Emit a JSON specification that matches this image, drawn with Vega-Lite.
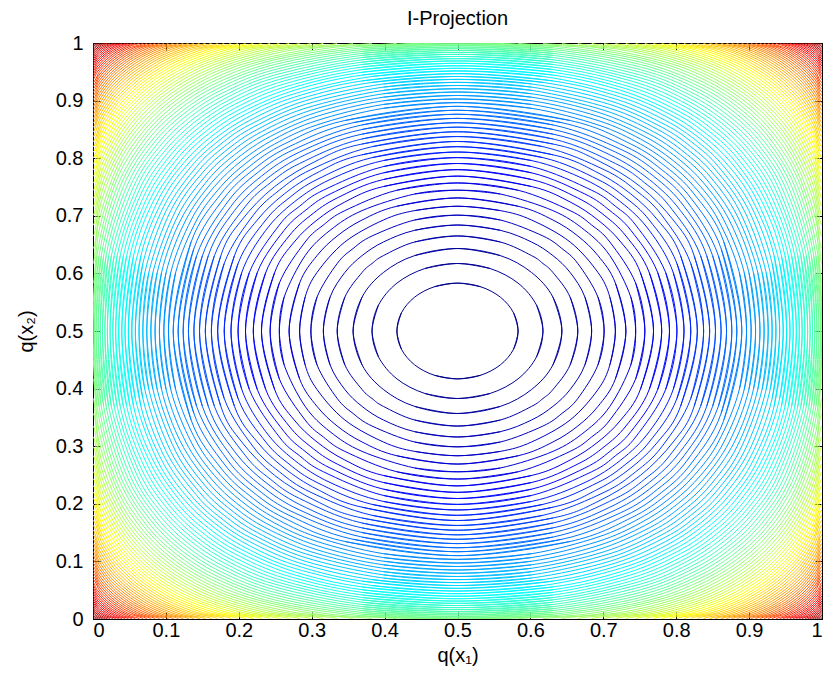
{
"$schema":"https://vega.github.io/schema/vega-lite/v6.json",
"width":729,"height":576,
"autosize":{"type":"none"},
"padding":{"left":93,"top":43,"right":1,"bottom":64},
"background":"white",
"title":{"text":"I-Projection","fontSize":20,"font":"Liberation Sans","fontWeight":"normal","color":"black","offset":4},
"data":{"values":[
{"m":1,"x":0.5768,"y":0.4682},{"m":1,"x":0.5831,"y":0.5},{"m":1,"x":0.5768,"y":0.5318},{"m":1,"x":0.5588,"y":0.5588},{"m":1,"x":0.5318,"y":0.5768},{"m":1,"x":0.5,"y":0.5831},{"m":1,"x":0.4682,"y":0.5768},
{"m":2,"x":0.6084,"y":0.4551},{"m":2,"x":0.6172,"y":0.5},{"m":2,"x":0.6084,"y":0.5449},{"m":2,"x":0.5831,"y":0.5831},{"m":2,"x":0.5449,"y":0.6084},{"m":2,"x":0.5,"y":0.6172},{"m":2,"x":0.4551,"y":0.6084},
{"m":3,"x":0.6309,"y":0.4412},{"m":3,"x":0.6432,"y":0.5},{"m":3,"x":0.6309,"y":0.5588},{"m":3,"x":0.6016,"y":0.6016},{"m":3,"x":0.5588,"y":0.6309},{"m":3,"x":0.5,"y":0.6432},{"m":3,"x":0.4412,"y":0.6309},
{"m":4,"x":0.6545,"y":0.4412},{"m":4,"x":0.665,"y":0.5},{"m":4,"x":0.6545,"y":0.5588},{"m":4,"x":0.6309,"y":0.6016},{"m":4,"x":0.6172,"y":0.6172},{"m":4,"x":0.6016,"y":0.6309},{"m":4,"x":0.5588,"y":0.6545},{"m":4,"x":0.5,"y":0.665},{"m":4,"x":0.4412,"y":0.6545},
{"m":5,"x":0.6748,"y":0.4412},{"m":5,"x":0.684,"y":0.5},{"m":5,"x":0.6748,"y":0.5588},{"m":5,"x":0.6545,"y":0.6016},{"m":5,"x":0.6309,"y":0.6309},{"m":5,"x":0.6016,"y":0.6545},{"m":5,"x":0.5588,"y":0.6748},{"m":5,"x":0.5,"y":0.684},{"m":5,"x":0.4412,"y":0.6748},
{"m":6,"x":0.6927,"y":0.4412},{"m":6,"x":0.7011,"y":0.5},{"m":6,"x":0.6927,"y":0.5588},{"m":6,"x":0.665,"y":0.6172},{"m":6,"x":0.6432,"y":0.6432},{"m":6,"x":0.6172,"y":0.665},{"m":6,"x":0.5588,"y":0.6927},{"m":6,"x":0.5,"y":0.7011},{"m":6,"x":0.4412,"y":0.6927},
{"m":7,"x":0.709,"y":0.4412},{"m":7,"x":0.7166,"y":0.5},{"m":7,"x":0.709,"y":0.5588},{"m":7,"x":0.6927,"y":0.6016},{"m":7,"x":0.6545,"y":0.6545},{"m":7,"x":0.6016,"y":0.6927},{"m":7,"x":0.5588,"y":0.709},{"m":7,"x":0.5,"y":0.7166},{"m":7,"x":0.4412,"y":0.709},
{"m":8,"x":0.7166,"y":0.4169},{"m":8,"x":0.731,"y":0.5},{"m":8,"x":0.7166,"y":0.5831},{"m":8,"x":0.6927,"y":0.6309},{"m":8,"x":0.665,"y":0.665},{"m":8,"x":0.6309,"y":0.6927},{"m":8,"x":0.5831,"y":0.7166},{"m":8,"x":0.5,"y":0.731},{"m":8,"x":0.4169,"y":0.7166},
{"m":9,"x":0.7378,"y":0.4412},{"m":9,"x":0.7444,"y":0.5},{"m":9,"x":0.7378,"y":0.5588},{"m":9,"x":0.709,"y":0.6309},{"m":9,"x":0.6748,"y":0.6748},{"m":9,"x":0.6309,"y":0.709},{"m":9,"x":0.5588,"y":0.7378},{"m":9,"x":0.5,"y":0.7444},{"m":9,"x":0.4412,"y":0.7378},
{"m":10,"x":0.7444,"y":0.4169},{"m":10,"x":0.757,"y":0.5},{"m":10,"x":0.7444,"y":0.5831},{"m":10,"x":0.709,"y":0.6545},{"m":10,"x":0.684,"y":0.684},{"m":10,"x":0.6545,"y":0.709},{"m":10,"x":0.5831,"y":0.7444},{"m":10,"x":0.5,"y":0.757},{"m":10,"x":0.4169,"y":0.7444},
{"m":11,"x":0.7508,"y":0.3984},{"m":11,"x":0.7689,"y":0.5},{"m":11,"x":0.7508,"y":0.6016},{"m":11,"x":0.724,"y":0.6545},{"m":11,"x":0.6927,"y":0.6927},{"m":11,"x":0.6545,"y":0.724},{"m":11,"x":0.6016,"y":0.7508},{"m":11,"x":0.5,"y":0.7689},{"m":11,"x":0.3984,"y":0.7508},
{"m":12,"x":0.763,"y":0.3984},{"m":12,"x":0.7801,"y":0.5},{"m":12,"x":0.763,"y":0.6016},{"m":12,"x":0.731,"y":0.665},{"m":12,"x":0.7011,"y":0.7011},{"m":12,"x":0.665,"y":0.731},{"m":12,"x":0.6016,"y":0.763},{"m":12,"x":0.5,"y":0.7801},{"m":12,"x":0.3984,"y":0.763},
{"m":13,"x":0.7746,"y":0.3984},{"m":13,"x":0.7908,"y":0.5},{"m":13,"x":0.7746,"y":0.6016},{"m":13,"x":0.7378,"y":0.6748},{"m":13,"x":0.709,"y":0.709},{"m":13,"x":0.6748,"y":0.7378},{"m":13,"x":0.6016,"y":0.7746},{"m":13,"x":0.5,"y":0.7908},{"m":13,"x":0.3984,"y":0.7746},
{"m":14,"x":0.7855,"y":0.3984},{"m":14,"x":0.801,"y":0.5},{"m":14,"x":0.7855,"y":0.6016},{"m":14,"x":0.7444,"y":0.684},{"m":14,"x":0.7166,"y":0.7166},{"m":14,"x":0.684,"y":0.7444},{"m":14,"x":0.6016,"y":0.7855},{"m":14,"x":0.5,"y":0.801},{"m":14,"x":0.3984,"y":0.7855},
{"m":15,"x":0.7959,"y":0.3984},{"m":15,"x":0.8107,"y":0.5},{"m":15,"x":0.7959,"y":0.6016},{"m":15,"x":0.763,"y":0.6748},{"m":15,"x":0.724,"y":0.724},{"m":15,"x":0.6748,"y":0.763},{"m":15,"x":0.6016,"y":0.7959},{"m":15,"x":0.5,"y":0.8107},{"m":15,"x":0.3984,"y":0.7959},
{"m":16,"x":0.801,"y":0.3828},{"m":16,"x":0.82,"y":0.5},{"m":16,"x":0.801,"y":0.6172},{"m":16,"x":0.763,"y":0.6927},{"m":16,"x":0.731,"y":0.731},{"m":16,"x":0.6927,"y":0.763},{"m":16,"x":0.6172,"y":0.801},{"m":16,"x":0.5,"y":0.82},{"m":16,"x":0.3828,"y":0.801},
{"m":17,"x":0.8059,"y":0.3691},{"m":17,"x":0.829,"y":0.5},{"m":17,"x":0.8059,"y":0.6309},{"m":17,"x":0.7746,"y":0.6927},{"m":17,"x":0.7378,"y":0.7378},{"m":17,"x":0.6927,"y":0.7746},{"m":17,"x":0.6309,"y":0.8059},{"m":17,"x":0.5,"y":0.829},{"m":17,"x":0.3691,"y":0.8059},
{"m":18,"x":0.82,"y":0.3828},{"m":18,"x":0.8376,"y":0.5},{"m":18,"x":0.82,"y":0.6172},{"m":18,"x":0.7801,"y":0.7011},{"m":18,"x":0.7444,"y":0.7444},{"m":18,"x":0.7011,"y":0.7801},{"m":18,"x":0.6172,"y":0.82},{"m":18,"x":0.5,"y":0.8376},{"m":18,"x":0.3828,"y":0.82},
{"m":19,"x":0.8246,"y":0.3691},{"m":19,"x":0.8459,"y":0.5},{"m":19,"x":0.8246,"y":0.6309},{"m":19,"x":0.7959,"y":0.6927},{"m":19,"x":0.7508,"y":0.7508},{"m":19,"x":0.6927,"y":0.7959},{"m":19,"x":0.6309,"y":0.8246},{"m":19,"x":0.5,"y":0.8459},{"m":19,"x":0.3691,"y":0.8246},
{"m":20,"x":0.8334,"y":0.3691},{"m":20,"x":0.8539,"y":0.5},{"m":20,"x":0.8334,"y":0.6309},{"m":20,"x":0.7908,"y":0.7166},{"m":20,"x":0.757,"y":0.757},{"m":20,"x":0.7166,"y":0.7908},{"m":20,"x":0.6309,"y":0.8334},{"m":20,"x":0.5,"y":0.8539},{"m":20,"x":0.3691,"y":0.8334},
{"m":21,"x":0.8418,"y":0.3691},{"m":21,"x":0.8616,"y":0.5},{"m":21,"x":0.8418,"y":0.6309},{"m":21,"x":0.8059,"y":0.709},{"m":21,"x":0.763,"y":0.763},{"m":21,"x":0.709,"y":0.8059},{"m":21,"x":0.6309,"y":0.8418},{"m":21,"x":0.5,"y":0.8616},{"m":21,"x":0.3691,"y":0.8418},
{"m":22,"x":0.8499,"y":0.3691},{"m":22,"x":0.8691,"y":0.5},{"m":22,"x":0.8499,"y":0.6309},{"m":22,"x":0.8107,"y":0.7166},{"m":22,"x":0.7689,"y":0.7689},{"m":22,"x":0.7166,"y":0.8107},{"m":22,"x":0.6309,"y":0.8499},{"m":22,"x":0.5,"y":0.8691},{"m":22,"x":0.3691,"y":0.8499},
{"m":23,"x":0.8578,"y":0.3691},{"m":23,"x":0.8763,"y":0.5},{"m":23,"x":0.8578,"y":0.6309},{"m":23,"x":0.8154,"y":0.724},{"m":23,"x":0.7746,"y":0.7746},{"m":23,"x":0.724,"y":0.8154},{"m":23,"x":0.6309,"y":0.8578},{"m":23,"x":0.5,"y":0.8763},{"m":23,"x":0.3691,"y":0.8578},
{"m":24,"x":0.8616,"y":0.3568},{"m":24,"x":0.8832,"y":0.5},{"m":24,"x":0.8616,"y":0.6432},{"m":24,"x":0.82,"y":0.731},{"m":24,"x":0.7801,"y":0.7801},{"m":24,"x":0.731,"y":0.82},{"m":24,"x":0.6432,"y":0.8616},{"m":24,"x":0.5,"y":0.8832},{"m":24,"x":0.3568,"y":0.8616},
{"m":25,"x":0.8654,"y":0.3455},{"m":25,"x":0.89,"y":0.5},{"m":25,"x":0.8654,"y":0.6545},{"m":25,"x":0.8246,"y":0.7378},{"m":25,"x":0.7855,"y":0.7855},{"m":25,"x":0.7378,"y":0.8246},{"m":25,"x":0.6545,"y":0.8654},{"m":25,"x":0.5,"y":0.89},{"m":25,"x":0.3455,"y":0.8654},
{"m":26,"x":0.8866,"y":0.3984},{"m":26,"x":0.8965,"y":0.5},{"m":26,"x":0.8866,"y":0.6016},{"m":26,"x":0.8578,"y":0.6927},{"m":26,"x":0.8246,"y":0.7508},{"m":26,"x":0.7908,"y":0.7908},{"m":26,"x":0.7508,"y":0.8246},{"m":26,"x":0.6927,"y":0.8578},{"m":26,"x":0.6016,"y":0.8866},{"m":26,"x":0.5,"y":0.8965},{"m":26,"x":0.3984,"y":0.8866},
{"m":27,"x":0.8933,"y":0.3984},{"m":27,"x":0.9028,"y":0.5},{"m":27,"x":0.8933,"y":0.6016},{"m":27,"x":0.8654,"y":0.6927},{"m":27,"x":0.8334,"y":0.7508},{"m":27,"x":0.7959,"y":0.7959},{"m":27,"x":0.7508,"y":0.8334},{"m":27,"x":0.6927,"y":0.8654},{"m":27,"x":0.6016,"y":0.8933},{"m":27,"x":0.5,"y":0.9028},{"m":27,"x":0.3984,"y":0.8933},
{"m":28,"x":0.8997,"y":0.3984},{"m":28,"x":0.9089,"y":0.5},{"m":28,"x":0.8997,"y":0.6016},{"m":28,"x":0.8727,"y":0.6927},{"m":28,"x":0.8376,"y":0.757},{"m":28,"x":0.801,"y":0.801},{"m":28,"x":0.757,"y":0.8376},{"m":28,"x":0.6927,"y":0.8727},{"m":28,"x":0.6016,"y":0.8997},{"m":28,"x":0.5,"y":0.9089},{"m":28,"x":0.3984,"y":0.8997},
{"m":29,"x":0.9059,"y":0.3984},{"m":29,"x":0.9149,"y":0.5},{"m":29,"x":0.9059,"y":0.6016},{"m":29,"x":0.8798,"y":0.6927},{"m":29,"x":0.8418,"y":0.763},{"m":29,"x":0.8059,"y":0.8059},{"m":29,"x":0.763,"y":0.8418},{"m":29,"x":0.6927,"y":0.8798},{"m":29,"x":0.6016,"y":0.9059},{"m":29,"x":0.5,"y":0.9149},{"m":29,"x":0.3984,"y":0.9059},
{"m":30,"x":0.9119,"y":0.3984},{"m":30,"x":0.9206,"y":0.5},{"m":30,"x":0.9119,"y":0.6016},{"m":30,"x":0.8832,"y":0.7011},{"m":30,"x":0.8459,"y":0.7689},{"m":30,"x":0.8107,"y":0.8107},{"m":30,"x":0.7689,"y":0.8459},{"m":30,"x":0.7011,"y":0.8832},{"m":30,"x":0.6016,"y":0.9119},{"m":30,"x":0.5,"y":0.9206},{"m":30,"x":0.3984,"y":0.9119},
{"m":31,"x":0.9178,"y":0.3984},{"m":31,"x":0.9262,"y":0.5},{"m":31,"x":0.9178,"y":0.6016},{"m":31,"x":0.8866,"y":0.709},{"m":31,"x":0.8499,"y":0.7746},{"m":31,"x":0.8154,"y":0.8154},{"m":31,"x":0.7746,"y":0.8499},{"m":31,"x":0.709,"y":0.8866},{"m":31,"x":0.6016,"y":0.9178},{"m":31,"x":0.5,"y":0.9262},{"m":31,"x":0.3984,"y":0.9178},
{"m":32,"x":0.9234,"y":0.3984},{"m":32,"x":0.9316,"y":0.5},{"m":32,"x":0.9234,"y":0.6016},{"m":32,"x":0.8933,"y":0.709},{"m":32,"x":0.8539,"y":0.7801},{"m":32,"x":0.82,"y":0.82},{"m":32,"x":0.7801,"y":0.8539},{"m":32,"x":0.709,"y":0.8933},{"m":32,"x":0.6016,"y":0.9234},{"m":32,"x":0.5,"y":0.9316},{"m":32,"x":0.3984,"y":0.9234},
{"m":33,"x":0.9289,"y":0.3984},{"m":33,"x":0.9368,"y":0.5},{"m":33,"x":0.9289,"y":0.6016},{"m":33,"x":0.8997,"y":0.709},{"m":33,"x":0.8578,"y":0.7855},{"m":33,"x":0.8246,"y":0.8246},{"m":33,"x":0.7855,"y":0.8578},{"m":33,"x":0.709,"y":0.8997},{"m":33,"x":0.6016,"y":0.9289},{"m":33,"x":0.5,"y":0.9368},{"m":33,"x":0.3984,"y":0.9289},
{"m":34,"x":0.9316,"y":0.3828},{"m":34,"x":0.9419,"y":0.5},{"m":34,"x":0.9316,"y":0.6172},{"m":34,"x":0.9028,"y":0.7166},{"m":34,"x":0.8654,"y":0.7855},{"m":34,"x":0.829,"y":0.829},{"m":34,"x":0.7855,"y":0.8654},{"m":34,"x":0.7166,"y":0.9028},{"m":34,"x":0.6172,"y":0.9316},{"m":34,"x":0.5,"y":0.9419},{"m":34,"x":0.3828,"y":0.9316},
{"m":35,"x":0.9342,"y":0.3691},{"m":35,"x":0.9468,"y":0.5},{"m":35,"x":0.9342,"y":0.6309},{"m":35,"x":0.9059,"y":0.724},{"m":35,"x":0.8727,"y":0.7855},{"m":35,"x":0.8334,"y":0.8334},{"m":35,"x":0.7855,"y":0.8727},{"m":35,"x":0.724,"y":0.9059},{"m":35,"x":0.6309,"y":0.9342},{"m":35,"x":0.5,"y":0.9468},{"m":35,"x":0.3691,"y":0.9342},
{"m":36,"x":0.9419,"y":0.3828},{"m":36,"x":0.9515,"y":0.5},{"m":36,"x":0.9419,"y":0.6172},{"m":36,"x":0.9119,"y":0.724},{"m":36,"x":0.8763,"y":0.7908},{"m":36,"x":0.8376,"y":0.8376},{"m":36,"x":0.7908,"y":0.8763},{"m":36,"x":0.724,"y":0.9119},{"m":36,"x":0.6172,"y":0.9419},{"m":36,"x":0.5,"y":0.9515},{"m":36,"x":0.3828,"y":0.9419},
{"m":37,"x":0.9443,"y":0.3691},{"m":37,"x":0.9561,"y":0.5},{"m":37,"x":0.9443,"y":0.6309},{"m":37,"x":0.9178,"y":0.724},{"m":37,"x":0.8798,"y":0.7959},{"m":37,"x":0.8418,"y":0.8418},{"m":37,"x":0.7959,"y":0.8798},{"m":37,"x":0.724,"y":0.9178},{"m":37,"x":0.6309,"y":0.9443},{"m":37,"x":0.5,"y":0.9561},{"m":37,"x":0.3691,"y":0.9443},
{"m":38,"x":0.9492,"y":0.3691},{"m":38,"x":0.9605,"y":0.5},{"m":38,"x":0.9492,"y":0.6309},{"m":38,"x":0.9206,"y":0.731},{"m":38,"x":0.8832,"y":0.801},{"m":38,"x":0.8459,"y":0.8459},{"m":38,"x":0.801,"y":0.8832},{"m":38,"x":0.731,"y":0.9206},{"m":38,"x":0.6309,"y":0.9492},{"m":38,"x":0.5,"y":0.9605},{"m":38,"x":0.3691,"y":0.9492},
{"m":39,"x":0.9538,"y":0.3691},{"m":39,"x":0.9648,"y":0.5},{"m":39,"x":0.9538,"y":0.6309},{"m":39,"x":0.9234,"y":0.7378},{"m":39,"x":0.8866,"y":0.8059},{"m":39,"x":0.8499,"y":0.8499},{"m":39,"x":0.8059,"y":0.8866},{"m":39,"x":0.7378,"y":0.9234},{"m":39,"x":0.6309,"y":0.9538},{"m":39,"x":0.5,"y":0.9648},{"m":39,"x":0.3691,"y":0.9538},
{"m":40,"x":0.9583,"y":0.3691},{"m":40,"x":0.9689,"y":0.5},{"m":40,"x":0.9583,"y":0.6309},{"m":40,"x":0.9289,"y":0.7378},{"m":40,"x":0.8933,"y":0.8059},{"m":40,"x":0.8539,"y":0.8539},{"m":40,"x":0.8059,"y":0.8933},{"m":40,"x":0.7378,"y":0.9289},{"m":40,"x":0.6309,"y":0.9583},{"m":40,"x":0.5,"y":0.9689},{"m":40,"x":0.3691,"y":0.9583},
{"m":41,"x":0.9627,"y":0.3691},{"m":41,"x":0.9728,"y":0.5},{"m":41,"x":0.9627,"y":0.6309},{"m":41,"x":0.9342,"y":0.7378},{"m":41,"x":0.8997,"y":0.8059},{"m":41,"x":0.8578,"y":0.8578},{"m":41,"x":0.8059,"y":0.8997},{"m":41,"x":0.7378,"y":0.9342},{"m":41,"x":0.6309,"y":0.9627},{"m":41,"x":0.5,"y":0.9728},{"m":41,"x":0.3691,"y":0.9627},
{"m":42,"x":0.9668,"y":0.3691},{"m":42,"x":0.9766,"y":0.5},{"m":42,"x":0.9668,"y":0.6309},{"m":42,"x":0.9368,"y":0.7444},{"m":42,"x":0.9028,"y":0.8107},{"m":42,"x":0.8616,"y":0.8616},{"m":42,"x":0.8107,"y":0.9028},{"m":42,"x":0.7444,"y":0.9368},{"m":42,"x":0.6309,"y":0.9668},{"m":42,"x":0.5,"y":0.9766},{"m":42,"x":0.3691,"y":0.9668},
{"m":43,"x":0.9709,"y":0.3691},{"m":43,"x":0.9803,"y":0.5},{"m":43,"x":0.9709,"y":0.6309},{"m":43,"x":0.9394,"y":0.7508},{"m":43,"x":0.9059,"y":0.8154},{"m":43,"x":0.8654,"y":0.8654},{"m":43,"x":0.8154,"y":0.9059},{"m":43,"x":0.7508,"y":0.9394},{"m":43,"x":0.6309,"y":0.9709},{"m":43,"x":0.5,"y":0.9803},{"m":43,"x":0.3691,"y":0.9709},
{"m":44,"x":0.9748,"y":0.3691},{"m":44,"x":0.9837,"y":0.5},{"m":44,"x":0.9748,"y":0.6309},{"m":44,"x":0.9443,"y":0.7508},{"m":44,"x":0.9089,"y":0.82},{"m":44,"x":0.8691,"y":0.8691},{"m":44,"x":0.82,"y":0.9089},{"m":44,"x":0.7508,"y":0.9443},{"m":44,"x":0.6309,"y":0.9748},{"m":44,"x":0.5,"y":0.9837},{"m":44,"x":0.3691,"y":0.9748},
{"m":45,"x":0.9785,"y":0.3691},{"m":45,"x":0.987,"y":0.5},{"m":45,"x":0.9785,"y":0.6309},{"m":45,"x":0.9492,"y":0.7508},{"m":45,"x":0.9119,"y":0.8246},{"m":45,"x":0.8727,"y":0.8727},{"m":45,"x":0.8246,"y":0.9119},{"m":45,"x":0.7508,"y":0.9492},{"m":45,"x":0.6309,"y":0.9785},{"m":45,"x":0.5,"y":0.987},{"m":45,"x":0.3691,"y":0.9785},
{"m":46,"x":0.982,"y":0.3691},{"m":46,"x":0.9901,"y":0.5},{"m":46,"x":0.982,"y":0.6309},{"m":46,"x":0.9538,"y":0.7508},{"m":46,"x":0.9178,"y":0.8246},{"m":46,"x":0.8763,"y":0.8763},{"m":46,"x":0.8246,"y":0.9178},{"m":46,"x":0.7508,"y":0.9538},{"m":46,"x":0.6309,"y":0.982},{"m":46,"x":0.5,"y":0.9901},{"m":46,"x":0.3691,"y":0.982},
{"m":47,"x":0.9854,"y":0.3691},{"m":47,"x":0.993,"y":0.5},{"m":47,"x":0.9854,"y":0.6309},{"m":47,"x":0.9583,"y":0.7508},{"m":47,"x":0.9234,"y":0.8246},{"m":47,"x":0.8798,"y":0.8798},{"m":47,"x":0.8246,"y":0.9234},{"m":47,"x":0.7508,"y":0.9583},{"m":47,"x":0.6309,"y":0.9854},{"m":47,"x":0.5,"y":0.993},{"m":47,"x":0.3691,"y":0.9854},
{"m":48,"x":0.9886,"y":0.3691},{"m":48,"x":0.9957,"y":0.5},{"m":48,"x":0.9886,"y":0.6309},{"m":48,"x":0.9627,"y":0.7508},{"m":48,"x":0.9262,"y":0.829},{"m":48,"x":0.8832,"y":0.8832},{"m":48,"x":0.829,"y":0.9262},{"m":48,"x":0.7508,"y":0.9627},{"m":48,"x":0.6309,"y":0.9886},{"m":48,"x":0.5,"y":0.9957},{"m":48,"x":0.3691,"y":0.9886},
{"m":49,"x":0.9916,"y":0.3691},{"m":49,"x":0.9981,"y":0.5},{"m":49,"x":0.9916,"y":0.6309},{"m":49,"x":0.9668,"y":0.7508},{"m":49,"x":0.9289,"y":0.8334},{"m":49,"x":0.8866,"y":0.8866},{"m":49,"x":0.8334,"y":0.9289},{"m":49,"x":0.7508,"y":0.9668},{"m":49,"x":0.6309,"y":0.9916},{"m":49,"x":0.5,"y":0.9981},{"m":49,"x":0.3691,"y":0.9916},
{"m":50,"x":0.9944,"y":0.3691},{"m":50,"x":1,"y":0.5},{"m":50,"x":0.9944,"y":0.6309},{"m":50,"x":0.9709,"y":0.7508},{"m":50,"x":0.9368,"y":0.829},{"m":50,"x":0.89,"y":0.89},{"m":50,"x":0.829,"y":0.9368},{"m":50,"x":0.7508,"y":0.9709},{"m":50,"x":0.6309,"y":0.9944},{"m":50,"x":0.5,"y":1},{"m":50,"x":0.3691,"y":0.9944},
{"m":51,"x":1.0084,"y":0.6748},{"m":51,"x":1,"y":0.5831},{"m":51,"x":0.9916,"y":0.6748},{"m":51,"x":0.9668,"y":0.7746},{"m":51,"x":0.9342,"y":0.8418},{"m":51,"x":0.8933,"y":0.8933},{"m":51,"x":0.8418,"y":0.9342},{"m":51,"x":0.7746,"y":0.9668},{"m":51,"x":0.6748,"y":0.9916},{"m":51,"x":0.5831,"y":1},{"m":51,"x":0.6748,"y":1.0084},
{"m":52,"x":1.0084,"y":0.6927},{"m":52,"x":1,"y":0.6172},{"m":52,"x":0.9916,"y":0.6927},{"m":52,"x":0.9668,"y":0.7855},{"m":52,"x":0.9368,"y":0.8459},{"m":52,"x":0.8965,"y":0.8965},{"m":52,"x":0.8459,"y":0.9368},{"m":52,"x":0.7855,"y":0.9668},{"m":52,"x":0.6927,"y":0.9916},{"m":52,"x":0.6172,"y":1},{"m":52,"x":0.6927,"y":1.0084},
{"m":53,"x":1.0114,"y":0.724},{"m":53,"x":1,"y":0.6432},{"m":53,"x":0.9886,"y":0.724},{"m":53,"x":0.9668,"y":0.7959},{"m":53,"x":0.9394,"y":0.8499},{"m":53,"x":0.8997,"y":0.8997},{"m":53,"x":0.8499,"y":0.9394},{"m":53,"x":0.7959,"y":0.9668},{"m":53,"x":0.724,"y":0.9886},{"m":53,"x":0.6432,"y":1},{"m":53,"x":0.724,"y":1.0114},
{"m":54,"x":1.0114,"y":0.7378},{"m":54,"x":1,"y":0.665},{"m":54,"x":0.9886,"y":0.7378},{"m":54,"x":0.9668,"y":0.8059},{"m":54,"x":0.9394,"y":0.8578},{"m":54,"x":0.9028,"y":0.9028},{"m":54,"x":0.8578,"y":0.9394},{"m":54,"x":0.8059,"y":0.9668},{"m":54,"x":0.7378,"y":0.9886},{"m":54,"x":0.665,"y":1},{"m":54,"x":0.7378,"y":1.0114},
{"m":55,"x":1.0114,"y":0.7508},{"m":55,"x":1,"y":0.684},{"m":55,"x":0.9886,"y":0.7508},{"m":55,"x":0.9668,"y":0.8154},{"m":55,"x":0.9394,"y":0.8654},{"m":55,"x":0.9059,"y":0.9059},{"m":55,"x":0.8654,"y":0.9394},{"m":55,"x":0.8154,"y":0.9668},{"m":55,"x":0.7508,"y":0.9886},{"m":55,"x":0.684,"y":1},{"m":55,"x":0.7508,"y":1.0114},
{"m":56,"x":1.0114,"y":0.763},{"m":56,"x":1,"y":0.7011},{"m":56,"x":0.9886,"y":0.763},{"m":56,"x":0.9668,"y":0.8246},{"m":56,"x":0.9419,"y":0.8691},{"m":56,"x":0.9089,"y":0.9089},{"m":56,"x":0.8691,"y":0.9419},{"m":56,"x":0.8246,"y":0.9668},{"m":56,"x":0.763,"y":0.9886},{"m":56,"x":0.7011,"y":1},{"m":56,"x":0.763,"y":1.0114},
{"m":57,"x":1.0114,"y":0.7746},{"m":57,"x":1,"y":0.7166},{"m":57,"x":0.9886,"y":0.7746},{"m":57,"x":0.9668,"y":0.8334},{"m":57,"x":0.9443,"y":0.8727},{"m":57,"x":0.9119,"y":0.9119},{"m":57,"x":0.8727,"y":0.9443},{"m":57,"x":0.8334,"y":0.9668},{"m":57,"x":0.7746,"y":0.9886},{"m":57,"x":0.7166,"y":1},{"m":57,"x":0.7746,"y":1.0114},
{"m":58,"x":1.0114,"y":0.7855},{"m":58,"x":1,"y":0.731},{"m":58,"x":0.9886,"y":0.7855},{"m":58,"x":0.9668,"y":0.8418},{"m":58,"x":0.9443,"y":0.8798},{"m":58,"x":0.9149,"y":0.9149},{"m":58,"x":0.8798,"y":0.9443},{"m":58,"x":0.8418,"y":0.9668},{"m":58,"x":0.7855,"y":0.9886},{"m":58,"x":0.731,"y":1},{"m":58,"x":0.7855,"y":1.0114},
{"m":59,"x":1.0114,"y":0.7959},{"m":59,"x":1,"y":0.7444},{"m":59,"x":0.9886,"y":0.7959},{"m":59,"x":0.9668,"y":0.8499},{"m":59,"x":0.9443,"y":0.8866},{"m":59,"x":0.9178,"y":0.9178},{"m":59,"x":0.8866,"y":0.9443},{"m":59,"x":0.8499,"y":0.9668},{"m":59,"x":0.7959,"y":0.9886},{"m":59,"x":0.7444,"y":1},{"m":59,"x":0.7959,"y":1.0114},
{"m":60,"x":1.0114,"y":0.8059},{"m":60,"x":1,"y":0.757},{"m":60,"x":0.9886,"y":0.8059},{"m":60,"x":0.9668,"y":0.8578},{"m":60,"x":0.9468,"y":0.89},{"m":60,"x":0.9206,"y":0.9206},{"m":60,"x":0.89,"y":0.9468},{"m":60,"x":0.8578,"y":0.9668},{"m":60,"x":0.8059,"y":0.9886},{"m":60,"x":0.757,"y":1},{"m":60,"x":0.8059,"y":1.0114},
{"m":61,"x":1.0114,"y":0.8154},{"m":61,"x":1,"y":0.7689},{"m":61,"x":0.9886,"y":0.8154},{"m":61,"x":0.9668,"y":0.8654},{"m":61,"x":0.9492,"y":0.8933},{"m":61,"x":0.9234,"y":0.9234},{"m":61,"x":0.8933,"y":0.9492},{"m":61,"x":0.8654,"y":0.9668},{"m":61,"x":0.8154,"y":0.9886},{"m":61,"x":0.7689,"y":1},{"m":61,"x":0.8154,"y":1.0114},
{"m":62,"x":1.0114,"y":0.8246},{"m":62,"x":1,"y":0.7801},{"m":62,"x":0.9886,"y":0.8246},{"m":62,"x":0.9689,"y":0.8691},{"m":62,"x":0.9492,"y":0.8997},{"m":62,"x":0.9262,"y":0.9262},{"m":62,"x":0.8997,"y":0.9492},{"m":62,"x":0.8691,"y":0.9689},{"m":62,"x":0.8246,"y":0.9886},{"m":62,"x":0.7801,"y":1},{"m":62,"x":0.8246,"y":1.0114},
{"m":63,"x":1.0114,"y":0.8334},{"m":63,"x":1,"y":0.7908},{"m":63,"x":0.9886,"y":0.8334},{"m":63,"x":0.9709,"y":0.8727},{"m":63,"x":0.9538,"y":0.8997},{"m":63,"x":0.9289,"y":0.9289},{"m":63,"x":0.8997,"y":0.9538},{"m":63,"x":0.8727,"y":0.9709},{"m":63,"x":0.8334,"y":0.9886},{"m":63,"x":0.7908,"y":1},{"m":63,"x":0.8334,"y":1.0114},
{"m":64,"x":1.0114,"y":0.8418},{"m":64,"x":1,"y":0.801},{"m":64,"x":0.9886,"y":0.8418},{"m":64,"x":0.9709,"y":0.8798},{"m":64,"x":0.9561,"y":0.9028},{"m":64,"x":0.9316,"y":0.9316},{"m":64,"x":0.9028,"y":0.9561},{"m":64,"x":0.8798,"y":0.9709},{"m":64,"x":0.8418,"y":0.9886},{"m":64,"x":0.801,"y":1},{"m":64,"x":0.8418,"y":1.0114},
{"m":65,"x":1.0114,"y":0.8499},{"m":65,"x":1,"y":0.8107},{"m":65,"x":0.9886,"y":0.8499},{"m":65,"x":0.9709,"y":0.8866},{"m":65,"x":0.9583,"y":0.9059},{"m":65,"x":0.9342,"y":0.9342},{"m":65,"x":0.9059,"y":0.9583},{"m":65,"x":0.8866,"y":0.9709},{"m":65,"x":0.8499,"y":0.9886},{"m":65,"x":0.8107,"y":1},{"m":65,"x":0.8499,"y":1.0114},
{"m":66,"x":1.0114,"y":0.8578},{"m":66,"x":1,"y":0.82},{"m":66,"x":0.9886,"y":0.8578},{"m":66,"x":0.9728,"y":0.89},{"m":66,"x":0.9583,"y":0.9119},{"m":66,"x":0.9368,"y":0.9368},{"m":66,"x":0.9119,"y":0.9583},{"m":66,"x":0.89,"y":0.9728},{"m":66,"x":0.8578,"y":0.9886},{"m":66,"x":0.82,"y":1},{"m":66,"x":0.8578,"y":1.0114},
{"m":67,"x":1.0114,"y":0.8654},{"m":67,"x":1,"y":0.829},{"m":67,"x":0.9886,"y":0.8654},{"m":67,"x":0.9748,"y":0.8933},{"m":67,"x":0.9627,"y":0.9119},{"m":67,"x":0.9394,"y":0.9394},{"m":67,"x":0.9119,"y":0.9627},{"m":67,"x":0.8933,"y":0.9748},{"m":67,"x":0.8654,"y":0.9886},{"m":67,"x":0.829,"y":1},{"m":67,"x":0.8654,"y":1.0114},
{"m":68,"x":1.0099,"y":0.8691},{"m":68,"x":1,"y":0.8376},{"m":68,"x":0.9901,"y":0.8691},{"m":68,"x":0.9748,"y":0.8997},{"m":68,"x":0.9627,"y":0.9178},{"m":68,"x":0.9419,"y":0.9419},{"m":68,"x":0.9178,"y":0.9627},{"m":68,"x":0.8997,"y":0.9748},{"m":68,"x":0.8691,"y":0.9901},{"m":68,"x":0.8376,"y":1},{"m":68,"x":0.8691,"y":1.0099},
{"m":69,"x":1.0084,"y":0.8727},{"m":69,"x":1,"y":0.8459},{"m":69,"x":0.9916,"y":0.8727},{"m":69,"x":0.9748,"y":0.9059},{"m":69,"x":0.9627,"y":0.9234},{"m":69,"x":0.9443,"y":0.9443},{"m":69,"x":0.9234,"y":0.9627},{"m":69,"x":0.9059,"y":0.9748},{"m":69,"x":0.8727,"y":0.9916},{"m":69,"x":0.8459,"y":1},{"m":69,"x":0.8727,"y":1.0084},
{"m":70,"x":1.0084,"y":0.8798},{"m":70,"x":1,"y":0.8539},{"m":70,"x":0.9916,"y":0.8798},{"m":70,"x":0.9766,"y":0.9089},{"m":70,"x":0.9648,"y":0.9262},{"m":70,"x":0.9468,"y":0.9468},{"m":70,"x":0.9262,"y":0.9648},{"m":70,"x":0.9089,"y":0.9766},{"m":70,"x":0.8798,"y":0.9916},{"m":70,"x":0.8539,"y":1},{"m":70,"x":0.8798,"y":1.0084},
{"m":71,"x":1.0084,"y":0.8866},{"m":71,"x":1,"y":0.8616},{"m":71,"x":0.9916,"y":0.8866},{"m":71,"x":0.9785,"y":0.9119},{"m":71,"x":0.9668,"y":0.9289},{"m":71,"x":0.9492,"y":0.9492},{"m":71,"x":0.9289,"y":0.9668},{"m":71,"x":0.9119,"y":0.9785},{"m":71,"x":0.8866,"y":0.9916},{"m":71,"x":0.8616,"y":1},{"m":71,"x":0.8866,"y":1.0084},
{"m":72,"x":1.0084,"y":0.8933},{"m":72,"x":1,"y":0.8691},{"m":72,"x":0.9916,"y":0.8933},{"m":72,"x":0.9785,"y":0.9178},{"m":72,"x":0.9668,"y":0.9342},{"m":72,"x":0.9515,"y":0.9515},{"m":72,"x":0.9342,"y":0.9668},{"m":72,"x":0.9178,"y":0.9785},{"m":72,"x":0.8933,"y":0.9916},{"m":72,"x":0.8691,"y":1},{"m":72,"x":0.8933,"y":1.0084},
{"m":73,"x":1.0084,"y":0.8997},{"m":73,"x":1,"y":0.8763},{"m":73,"x":0.9916,"y":0.8997},{"m":73,"x":0.9785,"y":0.9234},{"m":73,"x":0.9668,"y":0.9394},{"m":73,"x":0.9538,"y":0.9538},{"m":73,"x":0.9394,"y":0.9668},{"m":73,"x":0.9234,"y":0.9785},{"m":73,"x":0.8997,"y":0.9916},{"m":73,"x":0.8763,"y":1},{"m":73,"x":0.8997,"y":1.0084},
{"m":74,"x":1.0084,"y":0.9059},{"m":74,"x":1,"y":0.8832},{"m":74,"x":0.9916,"y":0.9059},{"m":74,"x":0.9803,"y":0.9262},{"m":74,"x":0.9689,"y":0.9419},{"m":74,"x":0.9561,"y":0.9561},{"m":74,"x":0.9419,"y":0.9689},{"m":74,"x":0.9262,"y":0.9803},{"m":74,"x":0.9059,"y":0.9916},{"m":74,"x":0.8832,"y":1},{"m":74,"x":0.9059,"y":1.0084},
{"m":75,"x":1.0084,"y":0.9119},{"m":75,"x":1,"y":0.89},{"m":75,"x":0.9916,"y":0.9119},{"m":75,"x":0.9748,"y":0.9394},{"m":75,"x":0.9583,"y":0.9583},{"m":75,"x":0.9394,"y":0.9748},{"m":75,"x":0.9119,"y":0.9916},{"m":75,"x":0.89,"y":1},{"m":75,"x":0.9119,"y":1.0084},
{"m":76,"x":1.0084,"y":0.9178},{"m":76,"x":1,"y":0.8965},{"m":76,"x":0.9916,"y":0.9178},{"m":76,"x":0.9748,"y":0.9443},{"m":76,"x":0.9605,"y":0.9605},{"m":76,"x":0.9443,"y":0.9748},{"m":76,"x":0.9178,"y":0.9916},{"m":76,"x":0.8965,"y":1},{"m":76,"x":0.9178,"y":1.0084},
{"m":77,"x":1.0084,"y":0.9234},{"m":77,"x":1,"y":0.9028},{"m":77,"x":0.9916,"y":0.9234},{"m":77,"x":0.9785,"y":0.9443},{"m":77,"x":0.9627,"y":0.9627},{"m":77,"x":0.9443,"y":0.9785},{"m":77,"x":0.9234,"y":0.9916},{"m":77,"x":0.9028,"y":1},{"m":77,"x":0.9234,"y":1.0084},
{"m":78,"x":1.0084,"y":0.9289},{"m":78,"x":1,"y":0.9089},{"m":78,"x":0.9916,"y":0.9289},{"m":78,"x":0.9785,"y":0.9492},{"m":78,"x":0.9648,"y":0.9648},{"m":78,"x":0.9492,"y":0.9785},{"m":78,"x":0.9289,"y":0.9916},{"m":78,"x":0.9089,"y":1},{"m":78,"x":0.9289,"y":1.0084},
{"m":79,"x":1.0084,"y":0.9342},{"m":79,"x":1,"y":0.9149},{"m":79,"x":0.9916,"y":0.9342},{"m":79,"x":0.9785,"y":0.9538},{"m":79,"x":0.9668,"y":0.9668},{"m":79,"x":0.9538,"y":0.9785},{"m":79,"x":0.9342,"y":0.9916},{"m":79,"x":0.9149,"y":1},{"m":79,"x":0.9342,"y":1.0084},
{"m":80,"x":1.0084,"y":0.9394},{"m":80,"x":1,"y":0.9206},{"m":80,"x":0.9916,"y":0.9394},{"m":80,"x":0.9803,"y":0.9561},{"m":80,"x":0.9689,"y":0.9689},{"m":80,"x":0.9561,"y":0.9803},{"m":80,"x":0.9394,"y":0.9916},{"m":80,"x":0.9206,"y":1},{"m":80,"x":0.9394,"y":1.0084},
{"m":81,"x":1.0084,"y":0.9443},{"m":81,"x":1,"y":0.9262},{"m":81,"x":0.9916,"y":0.9443},{"m":81,"x":0.982,"y":0.9583},{"m":81,"x":0.9709,"y":0.9709},{"m":81,"x":0.9583,"y":0.982},{"m":81,"x":0.9443,"y":0.9916},{"m":81,"x":0.9262,"y":1},{"m":81,"x":0.9443,"y":1.0084},
{"m":82,"x":1.0084,"y":0.9492},{"m":82,"x":1,"y":0.9316},{"m":82,"x":0.9916,"y":0.9492},{"m":82,"x":0.9837,"y":0.9605},{"m":82,"x":0.9728,"y":0.9728},{"m":82,"x":0.9605,"y":0.9837},{"m":82,"x":0.9492,"y":0.9916},{"m":82,"x":0.9316,"y":1},{"m":82,"x":0.9492,"y":1.0084},
{"m":83,"x":1.0056,"y":0.9492},{"m":83,"x":1,"y":0.9368},{"m":83,"x":0.9944,"y":0.9492},{"m":83,"x":0.9854,"y":0.9627},{"m":83,"x":0.9748,"y":0.9748},{"m":83,"x":0.9627,"y":0.9854},{"m":83,"x":0.9492,"y":0.9944},{"m":83,"x":0.9368,"y":1},{"m":83,"x":0.9492,"y":1.0056},
{"m":84,"x":1.0056,"y":0.9538},{"m":84,"x":1,"y":0.9419},{"m":84,"x":0.9944,"y":0.9538},{"m":84,"x":0.9854,"y":0.9668},{"m":84,"x":0.9766,"y":0.9766},{"m":84,"x":0.9668,"y":0.9854},{"m":84,"x":0.9538,"y":0.9944},{"m":84,"x":0.9419,"y":1},{"m":84,"x":0.9538,"y":1.0056},
{"m":85,"x":1.0056,"y":0.9583},{"m":85,"x":1,"y":0.9468},{"m":85,"x":0.9944,"y":0.9583},{"m":85,"x":0.9854,"y":0.9709},{"m":85,"x":0.9785,"y":0.9785},{"m":85,"x":0.9709,"y":0.9854},{"m":85,"x":0.9583,"y":0.9944},{"m":85,"x":0.9468,"y":1},{"m":85,"x":0.9583,"y":1.0056},
{"m":86,"x":1.0056,"y":0.9627},{"m":86,"x":1,"y":0.9515},{"m":86,"x":0.9944,"y":0.9627},{"m":86,"x":0.987,"y":0.9728},{"m":86,"x":0.9803,"y":0.9803},{"m":86,"x":0.9728,"y":0.987},{"m":86,"x":0.9627,"y":0.9944},{"m":86,"x":0.9515,"y":1},{"m":86,"x":0.9627,"y":1.0056},
{"m":87,"x":1.0056,"y":0.9668},{"m":87,"x":1,"y":0.9561},{"m":87,"x":0.9944,"y":0.9668},{"m":87,"x":0.9886,"y":0.9748},{"m":87,"x":0.982,"y":0.982},{"m":87,"x":0.9748,"y":0.9886},{"m":87,"x":0.9668,"y":0.9944},{"m":87,"x":0.9561,"y":1},{"m":87,"x":0.9668,"y":1.0056},
{"m":88,"x":1.0056,"y":0.9709},{"m":88,"x":1,"y":0.9605},{"m":88,"x":0.9944,"y":0.9709},{"m":88,"x":0.9837,"y":0.9837},{"m":88,"x":0.9709,"y":0.9944},{"m":88,"x":0.9605,"y":1},{"m":88,"x":0.9709,"y":1.0056},
{"m":89,"x":1.0056,"y":0.9748},{"m":89,"x":1,"y":0.9648},{"m":89,"x":0.9944,"y":0.9748},{"m":89,"x":0.9854,"y":0.9854},{"m":89,"x":0.9748,"y":0.9944},{"m":89,"x":0.9648,"y":1},{"m":89,"x":0.9748,"y":1.0056},
{"m":90,"x":1.0056,"y":0.9785},{"m":90,"x":1,"y":0.9689},{"m":90,"x":0.9944,"y":0.9785},{"m":90,"x":0.987,"y":0.987},{"m":90,"x":0.9785,"y":0.9944},{"m":90,"x":0.9689,"y":1},{"m":90,"x":0.9785,"y":1.0056},
{"m":91,"x":1.0056,"y":0.982},{"m":91,"x":1,"y":0.9728},{"m":91,"x":0.9944,"y":0.982},{"m":91,"x":0.9886,"y":0.9886},{"m":91,"x":0.982,"y":0.9944},{"m":91,"x":0.9728,"y":1},{"m":91,"x":0.982,"y":1.0056},
{"m":92,"x":1.0043,"y":0.9837},{"m":92,"x":1,"y":0.9766},{"m":92,"x":0.9957,"y":0.9837},{"m":92,"x":0.9901,"y":0.9901},{"m":92,"x":0.9837,"y":0.9957},{"m":92,"x":0.9766,"y":1},{"m":92,"x":0.9837,"y":1.0043},
{"m":93,"x":1.0031,"y":0.9854},{"m":93,"x":1,"y":0.9803},{"m":93,"x":0.9969,"y":0.9854},{"m":93,"x":0.9916,"y":0.9916},{"m":93,"x":0.9854,"y":0.9969},{"m":93,"x":0.9803,"y":1},{"m":93,"x":0.9854,"y":1.0031},
{"m":94,"x":1.0031,"y":0.9886},{"m":94,"x":1,"y":0.9837},{"m":94,"x":0.9969,"y":0.9886},{"m":94,"x":0.993,"y":0.993},{"m":94,"x":0.9886,"y":0.9969},{"m":94,"x":0.9837,"y":1},{"m":94,"x":0.9886,"y":1.0031},
{"m":95,"x":1.0031,"y":0.9916},{"m":95,"x":1,"y":0.987},{"m":95,"x":0.9969,"y":0.9916},{"m":95,"x":0.9944,"y":0.9944},{"m":95,"x":0.9916,"y":0.9969},{"m":95,"x":0.987,"y":1},{"m":95,"x":0.9916,"y":1.0031},
{"m":96,"x":1,"y":0.9901},{"m":96,"x":0.9957,"y":0.9957},{"m":96,"x":0.9901,"y":1},
{"m":97,"x":1,"y":0.993},{"m":97,"x":0.9969,"y":0.9969},{"m":97,"x":0.993,"y":1},
{"m":98,"x":1,"y":0.9957},{"m":98,"x":0.9981,"y":0.9981},{"m":98,"x":0.9957,"y":1},
{"m":99,"x":1,"y":0.9981},{"m":99,"x":0.9991,"y":0.9991},{"m":99,"x":0.9981,"y":1}
]},
"layer":[
{"mark":{"type":"line","interpolate":"cardinal","clip":true,"strokeWidth":1},
 "encoding":{
  "x":{"field":"x","type":"quantitative","scale":{"domain":[0,1],"nice":false,"zero":false},"axis":{"orient":"bottom","values":[0,0.1,0.2,0.3,0.4,0.5,0.6,0.7,0.8,0.9,1],"format":"~g","title":"q(x₁)","labelPadding":8,"titlePadding":5}},
  "y":{"field":"y","type":"quantitative","scale":{"domain":[0,1],"nice":false,"zero":false},"axis":{"orient":"left","values":[0,0.1,0.2,0.3,0.4,0.5,0.6,0.7,0.8,0.9,1],"format":"~g","title":"q(x₂)","labelPadding":17,"titlePadding":19}},
  "detail":{"field":"m","type":"nominal"},
  "color":{"field":"m","type":"quantitative","scale":{"domain":[0,12.5,37.5,62.5,87.5,100],"range":["#000080","#0000ff","#00ffff","#ffff00","#ff0000","#800000"],"interpolate":"rgb"},"legend":null},
  "order":{"value":null}
 }},
{"mark":{"type":"line","interpolate":"cardinal","clip":true,"strokeWidth":1},
 "encoding":{
  "x":{"field":"x","type":"quantitative","scale":{"domain":[0,1],"nice":false,"zero":false,"reverse":true},"axis":{"orient":"top","values":[0,0.1,0.2,0.3,0.4,0.5,0.6,0.7,0.8,0.9,1],"labels":false,"title":null}},
  "y":{"field":"y","type":"quantitative","scale":{"domain":[0,1],"nice":false,"zero":false},"axis":null},
  "detail":{"field":"m","type":"nominal"},
  "color":{"field":"m","type":"quantitative","legend":null},
  "order":{"value":null}
 }},
{"mark":{"type":"line","interpolate":"cardinal","clip":true,"strokeWidth":1},
 "encoding":{
  "x":{"field":"x","type":"quantitative","scale":{"domain":[0,1],"nice":false,"zero":false},"axis":null},
  "y":{"field":"y","type":"quantitative","scale":{"domain":[0,1],"nice":false,"zero":false,"reverse":true},"axis":{"orient":"right","values":[0,0.1,0.2,0.3,0.4,0.5,0.6,0.7,0.8,0.9,1],"labels":false,"title":null}},
  "detail":{"field":"m","type":"nominal"},
  "color":{"field":"m","type":"quantitative","legend":null},
  "order":{"value":null}
 }},
{"mark":{"type":"line","interpolate":"cardinal","clip":true,"strokeWidth":1},
 "encoding":{
  "x":{"field":"x","type":"quantitative","scale":{"domain":[0,1],"nice":false,"zero":false,"reverse":true},"axis":null},
  "y":{"field":"y","type":"quantitative","scale":{"domain":[0,1],"nice":false,"zero":false,"reverse":true},"axis":null},
  "detail":{"field":"m","type":"nominal"},
  "color":{"field":"m","type":"quantitative","legend":null},
  "order":{"value":null}
 }}
],
"resolve":{"scale":{"x":"independent","y":"independent"}},
"config":{
 "view":{"stroke":"black","strokeWidth":1},
 "axis":{"grid":false,"domain":true,"domainColor":"black","domainWidth":1,"tickColor":"black","labelColor":"black","titleColor":"black","labelFont":"Liberation Sans","titleFont":"Liberation Sans","labelFontSize":20,"titleFontSize":20,"titleFontWeight":"normal","tickSize":-7,"zindex":1}
}
}
